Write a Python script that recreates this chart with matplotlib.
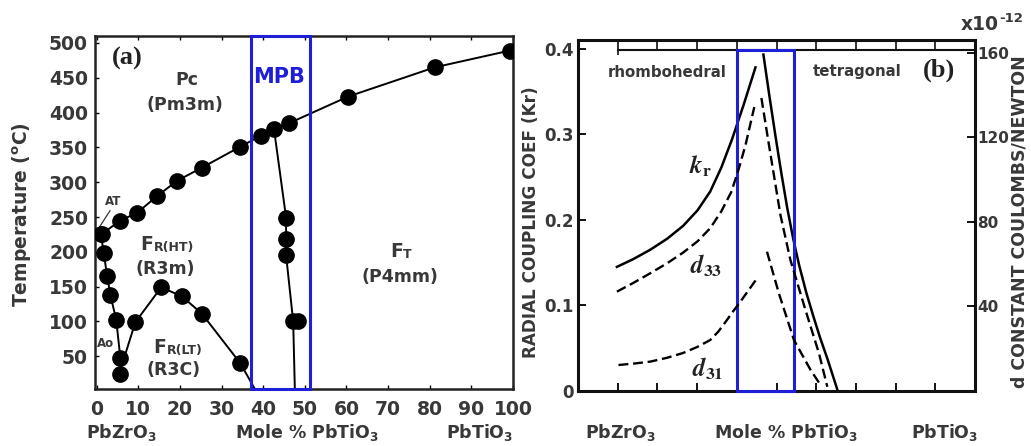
import matplotlib
matplotlib.use("Agg")
import matplotlib.pyplot as plt
from matplotlib.patches import Rectangle

# ---------------- data: panel (a) phase diagram ----------------
tc_x = [1.3, 5.7, 9.7, 14.5, 19.3, 25.3, 34.5, 39.5, 42.6, 46.3, 60.4, 81.2, 99.2]
tc_y = [226, 245, 256, 280, 302, 321, 351, 367, 376, 385, 423, 465, 489]

afe_x = [1.0, 1.7, 2.5, 3.3, 4.7, 5.7, 5.7]
afe_y = [226, 198, 166, 138, 102, 47, 25]

lt_x = [6.3, 9.3, 15.5, 20.5, 25.3, 34.5, 38.0]
lt_y = [42, 99, 149, 136, 111, 40, 3]
lt_marked = [False, True, True, True, True, True, False]

mpb_x = [42.6, 45.5, 45.5, 45.5, 47.2, 47.6]
mpb_y = [376, 249, 219, 195, 100, 3]
mpb_marked = [False, True, True, True, True, False]
mpb_extra_x = [48.4]
mpb_extra_y = [100]

a_xticks = [0, 10, 20, 30, 40, 50, 60, 70, 80, 90, 100]
a_yticks = [50, 100, 150, 200, 250, 300, 350, 400, 450, 500]
a_mpb = [37.0, 51.2]

# ---------------- data: panel (b) coupling / d constants ----------------
kr_left_x = [9.8, 13.9, 18.2, 22.5, 26.5, 30.1, 33.3, 36.1, 38.8, 41.7, 44.7]
kr_left_y = [0.145, 0.154, 0.165, 0.178, 0.193, 0.211, 0.233, 0.261, 0.294, 0.334, 0.378]
kr_right_x = [46.7, 48.2, 49.7, 51.2, 52.7, 54.2, 55.7, 57.5, 59.3, 61.0, 62.8, 65.3]
kr_right_y = [0.393, 0.345, 0.299, 0.255, 0.214, 0.178, 0.147, 0.115, 0.087, 0.062, 0.038, 0.002]

d33_left_x = [9.8, 13.9, 18.2, 22.5, 26.5, 30.1, 33.3, 36.1, 38.6, 40.4, 42.2, 44.4]
d33_left_y = [47.0, 51.1, 55.7, 60.5, 65.5, 70.8, 77.0, 85.0, 94.1, 104.5, 116.4, 134.3]
d33_right_x = [46.2, 48.1, 51.0, 53.5, 57.3, 60.7, 62.8]
d33_right_y = [138.6, 116.4, 83.2, 62.0, 38.3, 17.8, 2.0]

d31_left_x = [10.2, 14.2, 18.2, 22.4, 26.5, 30.0, 33.3, 35.3, 37.1, 39.0, 41.0, 45.1]
d31_left_y = [12.3, 13.0, 13.9, 15.7, 18.0, 20.8, 24.1, 28.0, 32.5, 37.5, 42.5, 53.3]
d31_right_x = [47.6, 50.6, 54.4, 58.6, 61.1]
d31_right_y = [65.9, 46.2, 24.1, 9.9, 2.8]

b_kticks = [0, 0.1, 0.2, 0.3, 0.4]
b_kticklabels = ["0", "0.1", "0.2", "0.3", "0.4"]
b_dticks = [40, 80, 120, 160]
b_xticks = [10, 20, 30, 40, 50, 60, 70, 80, 90]
b_mpb = [40.1, 54.4]
b_top_line = 0.398

# ---------------- styling ----------------
TXT = "#383838"
BLUE = "#1f1fd8"
plt.rcParams["font.family"] = ["DejaVu Sans"]
plt.rcParams["font.weight"] = "bold"
plt.rcParams["mathtext.fontset"] = "custom"
plt.rcParams["mathtext.rm"] = "DejaVu Sans:bold"
plt.rcParams["mathtext.it"] = "DejaVu Sans:bold:italic"
SERIF = ["Liberation Serif", "DejaVu Serif"]

fig = plt.figure(figsize=(10.31, 4.46), dpi=100)

# ================= panel (a) =================
ax = fig.add_axes([95 / 1031, 1 - 389 / 446, 418 / 1031, 353 / 446])
ax.set_xlim(-0.4, 100)
ax.set_ylim(3, 510)
for s in ax.spines.values():
    s.set_linewidth(1.8)
    s.set_color("#222222")

lk = dict(color="black", lw=1.4, zorder=3)
mk = dict(marker="o", ms=11, color="black", ls="none", zorder=4)

ax.plot(tc_x, tc_y, **lk)
ax.plot(tc_x, tc_y, **mk)
ax.plot(afe_x, afe_y, **lk)
ax.plot(afe_x, afe_y, **mk)
ax.plot(lt_x, lt_y, **lk)
ax.plot([x for x, m in zip(lt_x, lt_marked) if m], [y for y, m in zip(lt_y, lt_marked) if m], **mk)
ax.plot(mpb_x, mpb_y, **lk)
ax.plot([x for x, m in zip(mpb_x, mpb_marked) if m], [y for y, m in zip(mpb_y, mpb_marked) if m], **mk)
ax.plot(mpb_extra_x, mpb_extra_y, **mk)

ax.add_patch(Rectangle((a_mpb[0], 3), a_mpb[1] - a_mpb[0], 507, fill=False,
                       ec=BLUE, lw=2.2, zorder=5, clip_on=False))

ax.set_xticks(a_xticks)
ax.set_xticklabels([str(v) for v in a_xticks])
ax.set_yticks(a_yticks)
ax.set_yticklabels([str(v) for v in a_yticks])
ax.tick_params(axis="both", direction="in", length=3, width=1, labelsize=13.5,
               labelcolor=TXT, top=True, pad=5)
ax.tick_params(axis="x", pad=8)

# texts
ax.text(7.4, 478, "(a)", fontsize=19, fontweight="bold", family=SERIF, ha="center", va="center", color="#222222")
ax.text(21.7, 447, "Pc", fontsize=12.5, ha="center", va="center", color=TXT)
ax.text(21.3, 411, "(Pm3m)", fontsize=12.5, ha="center", va="center", color=TXT)
ax.text(43.8, 451, "MPB", fontsize=15, ha="center", va="center", color=BLUE)
ax.text(72.8, 164, "(P4mm)", fontsize=12.5, ha="center", va="center", color=TXT)
ax.text(16.5, 176, "(R3m)", fontsize=12.5, ha="center", va="center", color=TXT)
ax.text(18.5, 30, "(R3C)", fontsize=12.5, ha="center", va="center", color=TXT)
ax.text(2.1, 68, "Ao", fontsize=8.5, ha="center", va="center", color=TXT)
ax.text(4.0, 272, "AT", fontsize=8.5, ha="center", va="center", color=TXT)
ax.plot([3.2, 0.5], [259, 234], color="#333333", lw=0.9, zorder=3)


def phase_label(x, y, big, small):
    t = ax.text(x, y, big, fontsize=13.5, ha="left", va="baseline", color=TXT)
    ax.annotate(small, xy=(1, 0), xycoords=t, xytext=(0.5, 0), textcoords="offset points",
                fontsize=9, ha="left", va="bottom", color=TXT)


phase_label(10.5, 202, "F", "R(HT)")
phase_label(13.6, 54, "F", "R(LT)")
phase_label(70.4, 192, "F", "T")

fig.text(0.022, 0.52, "Temperature ($^{\\mathrm{o}}$C)", rotation=90, fontsize=13.5,
         ha="center", va="center", color=TXT)
fig.text(121 / 1031, 0.031, "PbZrO$_3$", fontsize=12.5, ha="center", va="center", color=TXT)
fig.text(307 / 1031, 0.031, "Mole % PbTiO$_3$", fontsize=12.5, ha="center", va="center", color=TXT)
fig.text(480 / 1031, 0.031, "PbTiO$_3$", fontsize=12.5, ha="center", va="center", color=TXT)

# ================= panel (b) =================
bx = fig.add_axes([578 / 1031, 1 - 391 / 446, 397 / 1031, 351 / 446])
bx.set_xlim(0, 100)
bx.set_ylim(0, 0.41)
for s in bx.spines.values():
    s.set_linewidth(2.2)
    s.set_color("#111111")

bx.plot(kr_left_x, kr_left_y, color="black", lw=1.8, zorder=3)
bx.plot(kr_right_x, kr_right_y, color="black", lw=1.8, zorder=3)

dx = bx.twinx()
dx.set_ylim(0, 0.41 * 405)
dash = dict(color="black", lw=1.7, ls=(0, (4.2, 2.0)), zorder=3)
dx.plot(d33_left_x, d33_left_y, **dash)
dx.plot(d33_right_x, d33_right_y, **dash)
dx.plot(d31_left_x, d31_left_y, **dash)
dx.plot(d31_right_x, d31_right_y, **dash)

# top inner scale line
bx.plot([b_xticks[0], 100], [b_top_line, b_top_line], color="#111111", lw=1.5, zorder=2, clip_on=False)
bx.vlines(b_xticks, b_top_line, 0.41, color="#111111", lw=1.2, zorder=2)
bx.vlines([b_xticks[0]], b_top_line - 0.006, b_top_line, color="#111111", lw=1.2, zorder=2)

bx.add_patch(Rectangle((b_mpb[0], 0), b_mpb[1] - b_mpb[0], b_top_line, fill=False,
                       ec=BLUE, lw=2.2, zorder=5, clip_on=False))

bx.set_xticks(b_xticks)
bx.set_xticklabels([])
bx.set_yticks(b_kticks)
bx.set_yticklabels(b_kticklabels)
bx.tick_params(axis="x", direction="in", length=6, width=1.3)
bx.tick_params(axis="y", direction="in", length=6, width=1.3, labelsize=12, labelcolor=TXT, pad=3)
dx.set_yticks(b_dticks)
dx.set_yticklabels([str(v) for v in b_dticks])
dx.tick_params(axis="y", direction="in", length=6, width=1.3, labelsize=11, labelcolor=TXT, pad=1.5)
for s in dx.spines.values():
    s.set_visible(False)

bx.text(22.5, 0.372, "rhombohedral", fontsize=10.8, ha="center", va="center", color=TXT)
bx.text(70.2, 0.373, "tetragonal", fontsize=10.8, ha="center", va="center", color=TXT)
bx.text(90.9, 0.375, "(b)", fontsize=19, fontweight="bold", family=SERIF, ha="center", va="center", color="#222222")
bx.text(30.8, 0.263, "$k_{\\mathrm{r}}$", fontsize=18, math_fontfamily="stix", ha="center", va="center", color="#222222")
bx.text(32.3, 0.146, "$d_{33}$", fontsize=18, math_fontfamily="stix", ha="center", va="center", color="#222222")
bx.text(32.8, 0.026, "$d_{31}$", fontsize=18, math_fontfamily="stix", ha="center", va="center", color="#222222")

fig.text(531 / 1031, 1 - 222 / 446, "RADIAL COUPLING COEF (Kr)", rotation=90, fontsize=12.2,
         ha="center", va="center", color=TXT)
fig.text(1019 / 1031, 1 - 222 / 446, "d CONSTANT COULOMBS/NEWTON", rotation=90, fontsize=12.5,
         ha="center", va="center", color=TXT)
fig.text(999 / 1031, 1 - 25 / 446, "x10", fontsize=13.5, ha="right", va="center", color=TXT)
fig.text(999 / 1031, 1 - 19 / 446, "-12", fontsize=9.5, ha="left", va="center", color=TXT)

fig.text(620 / 1031, 0.031, "PbZrO$_3$", fontsize=12.5, ha="center", va="center", color=TXT)
fig.text(786 / 1031, 0.031, "Mole % PbTiO$_3$", fontsize=12.5, ha="center", va="center", color=TXT)
fig.text(945 / 1031, 0.031, "PbTiO$_3$", fontsize=12.5, ha="center", va="center", color=TXT)

fig.savefig("out.png", dpi=100)
